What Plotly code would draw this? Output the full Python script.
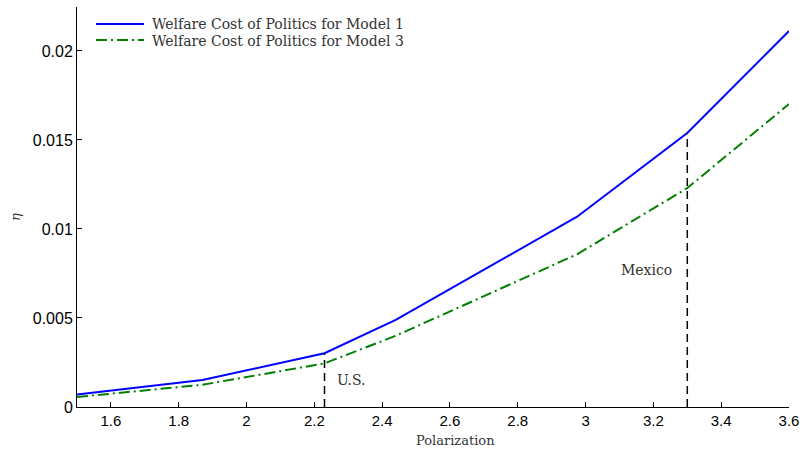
import plotly.graph_objects as go

polarization = [1.5, 1.87, 2.23, 2.44, 2.975, 3.30, 3.6]
model1 = [0.0007, 0.00152, 0.00302, 0.00489, 0.01069, 0.01539, 0.02112]
model3 = [0.00056, 0.00125, 0.00245, 0.00400, 0.00858, 0.01230, 0.01702]
series_names = ["Welfare Cost of Politics for Model 1", "Welfare Cost of Politics for Model 3"]
countries = ["U.S.", "Mexico"]
country_x = [2.23, 3.30]
country_y = [0.00302, 0.01539]

x_ticks = [1.6, 1.8, 2, 2.2, 2.4, 2.6, 2.8, 3, 3.2, 3.4, 3.6]
y_ticks = [0, 0.005, 0.01, 0.015, 0.02]
y_ticktext = ["0", "0.005", "0.01", "0.015", "0.02"]

serif = "DejaVu Serif"
sans = "Liberation Sans"
txt = "#333333"
styles = [dict(color="#0000ff", width=2),
          dict(color="#008000", width=2, dash="11px,4px,2px,4px")]

# plot area geometry (figure px)
FW, FH = 804, 449
L, R, T, B = 77, 789, 7, 407
W, H = R - L, B - T


def px(xp):
    return (xp - L) / W


def py(yp):
    return (B - yp) / H


fig = go.Figure()
for vals, nm, st in zip([model1, model3], series_names, styles):
    fig.add_trace(go.Scatter(x=polarization, y=vals, mode="lines", name=nm,
                             line=st, showlegend=False))

for cx, cy in zip(country_x, country_y):
    fig.add_trace(go.Scatter(x=[cx, cx], y=[0, cy], mode="lines", showlegend=False,
                             line=dict(color="black", width=1.5, dash="8px,5px")))

fig.add_annotation(x=2.262, y=0.0015, text=countries[0], showarrow=False, xanchor="left",
                   font=dict(family=serif, size=14, color=txt))
fig.add_annotation(x=3.262, y=0.0077, text=countries[1], showarrow=False, xanchor="right",
                   font=dict(family=serif, size=14, color=txt))

# manual legend
for i, (nm, st) in enumerate(zip(series_names, styles)):
    yy = 24 + 16 * i
    fig.add_shape(type="line", xref="paper", yref="paper",
                  x0=px(96), x1=px(144), y0=py(yy), y1=py(yy), line=st)
    fig.add_annotation(xref="paper", yref="paper", x=px(150), y=py(yy + 0.5),
                       text=nm, showarrow=False, xanchor="left", yanchor="middle",
                       font=dict(family=serif, size=14, color=txt))

# axis titles
fig.add_annotation(xref="paper", yref="paper", x=px(455), y=py(440),
                   text="Polarization", showarrow=False, xanchor="center", yanchor="middle",
                   font=dict(family=serif, size=13, color=txt))
fig.add_annotation(xref="paper", yref="paper", x=px(15), y=py(217),
                   text="<i>η</i>", showarrow=False, xanchor="center", yanchor="middle",
                   textangle=-90, font=dict(family=serif, size=13, color=txt))

fig.update_layout(
    width=FW, height=FH,
    margin=dict(l=L, r=FW - R, t=T, b=FH - B),
    plot_bgcolor="white", paper_bgcolor="white",
    showlegend=False,
    xaxis=dict(range=[1.5, 3.6], tickvals=x_ticks,
               ticktext=[f"{v:g}" for v in x_ticks], automargin=False,
               showgrid=False, zeroline=False, showline=True, linecolor="black", linewidth=1,
               ticks="inside", ticklen=5, tickcolor="black", ticklabeloverflow="allow",
               tickfont=dict(family=sans, size=15, color="black")),
    yaxis=dict(range=[0, 0.02247], tickvals=y_ticks, automargin=False,
               ticktext=y_ticktext,
               showgrid=False, zeroline=False, showline=True, linecolor="black", linewidth=1,
               ticks="inside", ticklen=5, tickcolor="black",
               tickfont=dict(family=sans, size=16, color="black")),
)

fig.write_html("out.html", config={"displayModeBar": False},
               post_script="document.body.style.margin='0px';document.body.style.overflow='hidden';")
